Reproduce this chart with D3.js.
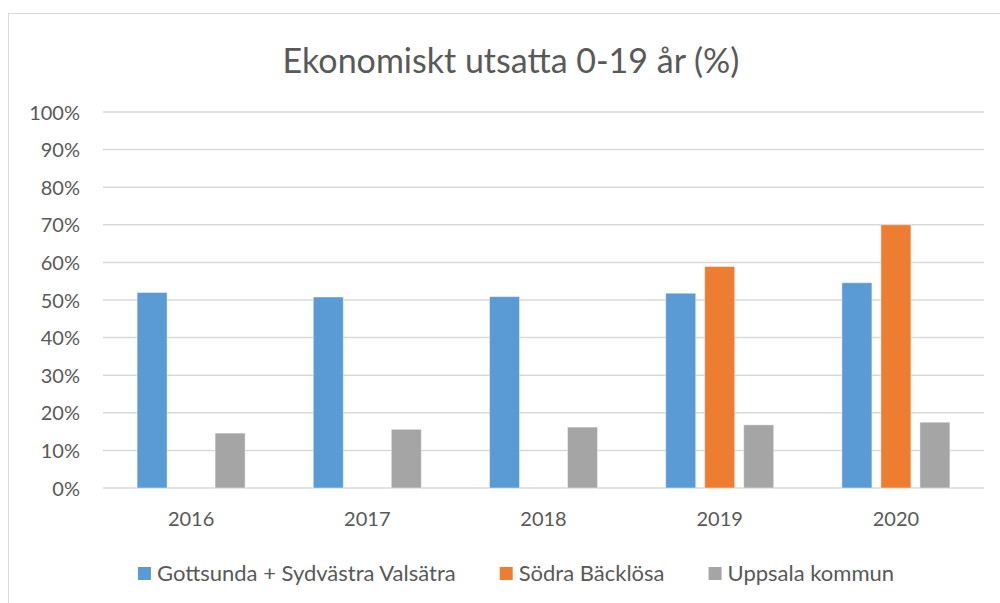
<!DOCTYPE html>
<html>
<head>
<meta charset="utf-8">
<script src="https://cdn.jsdelivr.net/npm/d3@7"></script>
<style>
  body { margin: 0; padding: 0; background: #fff; }
  svg { display: block; }
  text { font-family: Lato, "Open Sans", sans-serif; fill: #595959; }
</style>
</head>
<body>
<div id="main"></div>
<script>
const years = ['2016', '2017', '2018', '2019', '2020'];
const seriesNames = ['Gottsunda + Sydvästra Valsätra', 'Södra Bäcklösa', 'Uppsala kommun'];
const gottsunda = [52, 50.8, 50.9, 51.8, 54.6];
const sodraBacklosa = [null, null, null, 58.9, 70];
const uppsala = [14.6, 15.6, 16.2, 16.8, 17.5];
const colours = ['#5b9bd5', '#ed7d31', '#a5a5a5'];
const yTicks = [0, 10, 20, 30, 40, 50, 60, 70, 80, 90, 100];

const WIDTH = 1000, HEIGHT = 603;
const PLOT = {left: 103, right: 984, top: 112, bottom: 488};

const svg = d3.select('#main').append('svg').attr('width', WIDTH).attr('height', HEIGHT);

// chart frame (cut by the window on right and bottom)
svg.append('rect')
    .attr('x', 8.5).attr('y', 13.5)
    .attr('width', 1100).attr('height', 700)
    .attr('fill', 'none').attr('stroke', '#d9d9d9').attr('stroke-width', 1);

svg.append('text')
    .attr('x', 511).attr('y', 73)
    .attr('text-anchor', 'middle')
    .attr('font-size', 34)
    .text('Ekonomiskt utsatta 0-19 år (%)');

const scaleX = d3.scaleBand().domain(years).range([PLOT.left, PLOT.right]).padding(0);
const scaleSeries = d3.scaleBand().domain(d3.range(3)).range([0, scaleX.bandwidth()])
    .paddingInner(0.23).paddingOuter(0.874);
const scaleY = d3.scaleLinear().domain([0, 100]).range([PLOT.bottom, PLOT.top]);

// gridlines
svg.append('g').selectAll('line').data(yTicks).enter().append('line')
    .attr('x1', PLOT.left).attr('x2', PLOT.right)
    .attr('y1', (d) => scaleY(d)).attr('y2', (d) => scaleY(d))
    .attr('stroke', '#d9d9d9').attr('stroke-width', 1.5);

const axisY = d3.axisLeft(scaleY).tickValues(yTicks).tickFormat((d) => d + '%').tickSize(0).tickPadding(0);
const gY = svg.append('g').attr('transform', `translate(80, 0)`).call(axisY);
gY.select('.domain').remove();
gY.selectAll('text').attr('font-size', 20).attr('font-family', 'Lato, sans-serif').attr('fill', '#595959').attr('dy', '0.35em');

const axisX = d3.axisBottom(scaleX).tickSize(0).tickPadding(0);
const gX = svg.append('g').attr('transform', `translate(0, ${PLOT.bottom + 31})`).call(axisX);
gX.select('.domain').remove();
gX.selectAll('text').attr('font-size', 20).attr('font-family', 'Lato, sans-serif').attr('fill', '#595959').attr('dy', '0.35em');

const data = [gottsunda, sodraBacklosa, uppsala];
const rows = [];
years.forEach((y, i) => data.forEach((s, j) => {
    if (s[i] != null) rows.push({year: y, series: j, value: s[i]});
}));

svg.append('g').selectAll('rect').data(rows).enter().append('rect')
    .attr('x', (d) => scaleX(d.year) + scaleSeries(d.series))
    .attr('y', (d) => scaleY(d.value))
    .attr('width', scaleSeries.bandwidth())
    .attr('height', (d) => scaleY(0) - scaleY(d.value))
    .attr('fill', (d) => colours[d.series])
    .attr('stroke', '#ffffff').attr('stroke-opacity', 0.45).attr('stroke-width', 1);

// legend
const legend = svg.append('g');
const items = legend.selectAll('g').data(seriesNames).enter().append('g');
items.append('rect').attr('width', 13).attr('height', 13).attr('y', -6)
    .attr('fill', (d, i) => colours[i]);
items.append('text').attr('x', 19).attr('dy', '0.35em').attr('font-size', 22).text((d) => d);
const GAP = 44;
const widths = items.nodes().map((n) => n.getBBox().width);
const total = d3.sum(widths) + GAP * (widths.length - 1);
let offset = 516 - total / 2;
items.attr('transform', (d, i) => {
    const x = offset;
    offset += widths[i] + GAP;
    return `translate(${x}, 573)`;
});
</script>
</body>
</html>
